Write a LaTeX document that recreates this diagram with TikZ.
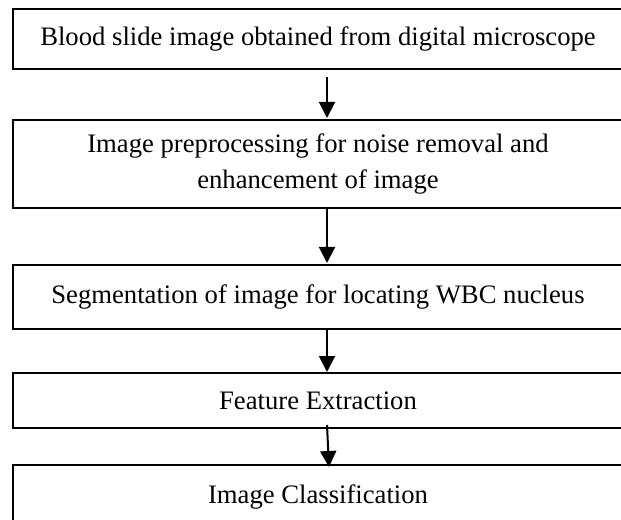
\documentclass[tikz,border=0pt]{standalone}
\usepackage{fontspec}
\setmainfont{Liberation Serif}
\usetikzlibrary{arrows.meta}

\tikzset{
  stagebox/.style={draw=black, line width=1.3pt, rectangle, inner sep=0pt,
    outer sep=0pt, minimum width=457.5pt, align=center,
    font=\fontsize{20pt}{27pt}\selectfont},
  flowarrow/.style={line width=1.5pt, -{Triangle[width=12pt,length=12pt]}}
}

\begin{document}
\begin{tikzpicture}[x=0.75pt, y=-0.75pt]
  \useasboundingbox (0,0) rectangle (621,520);
  \clip (0,0) rectangle (621,520);

  % processing stages, top to bottom
  \node[stagebox, minimum height=45pt]    (b1) at (318,39)
    {Blood slide image obtained from digital microscope};
  \node[stagebox, minimum height=66pt]    (b2) at (318,164)
    {Image preprocessing for noise removal and\\enhancement of image};
  \node[stagebox, minimum height=48pt]    (b3) at (318,297)
    {Segmentation of image for locating WBC nucleus};
  \node[stagebox, minimum height=41.25pt] (b4) at (318,400.5)
    {Feature Extraction};
  \node[stagebox, minimum height=47.25pt] (b5) at (318,496.5)
    {Image Classification};

  % flow between the stages
  \draw[flowarrow] ([shift={(9,8)}]b1.south) -- ([shift={(9,-2)}]b2.north);
  \draw[flowarrow] ([shift={(9,0)}]b2.south) -- ([shift={(9,-2)}]b3.north);
  \draw[flowarrow] ([shift={(9,0)}]b3.south) -- ([shift={(9,-1)}]b4.north);
  \draw[flowarrow] ([shift={(9,-3)}]b4.south) -- ([shift={(11,2)}]b5.north);
\end{tikzpicture}
\end{document}
